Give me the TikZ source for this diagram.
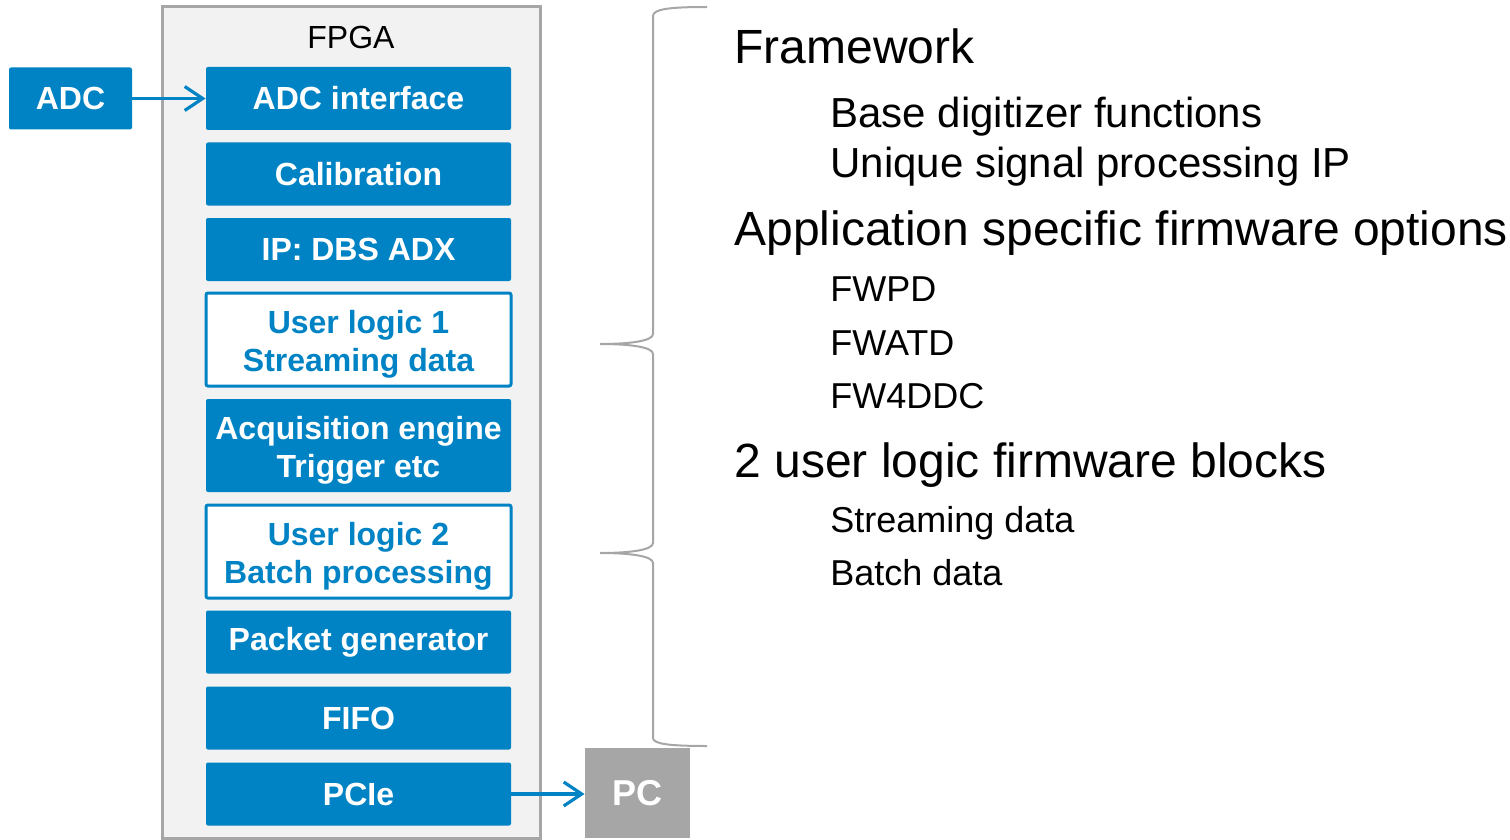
\documentclass[tikz,border=0pt]{standalone}
\usepackage{fontspec}
\setmainfont{Liberation Sans}
\usetikzlibrary{arrows.meta}
\definecolor{kblue}{RGB}{0,131,196}
\definecolor{kgray}{RGB}{166,166,166}
\definecolor{kbg}{RGB}{242,242,242}
\newcommand{\toppad}{\rule{0pt}{16.5pt}}

\begin{document}
\begin{tikzpicture}[x=0.5pt, y=-0.5pt,
    block/.style={fill=kblue, text=white, font=\fontsize{16}{19}\selectfont\bfseries, minimum width=152.5pt, minimum height=31.5pt, rounded corners=1pt, align=center, inner sep=0pt},
    tallblock/.style={block, minimum height=46.5pt},
    userblock/.style={tallblock, fill=white, draw=kblue, line width=1.5pt, text=kblue},
    arr/.style={kblue, line width=1.6pt, -{Straight Barb[length=9pt, width=12pt]}},
    head/.style={anchor=base west, inner sep=0pt, font=\fontsize{24}{28}\selectfont},
    subA/.style={anchor=base west, inner sep=0pt, font=\fontsize{21}{25}\selectfont},
    subB/.style={anchor=base west, inner sep=0pt, font=\fontsize{18}{22}\selectfont},
    brace/.style={kgray, line width=1pt}]
    \useasboundingbox (0,0) rectangle (1510,840);

    % FPGA frame
    \node[draw=kgray, fill=kbg, line width=1.5pt, minimum width=189pt, minimum height=415.5pt, inner sep=0pt] (fpga) at (351,422.5) {};
    \node[font=\fontsize{16}{19}\selectfont, anchor=base] (fpgalabel) at (351,49) {FPGA};

    % Blocks inside the FPGA
    \node[block] (adcif) at (358.5,98.5) {ADC interface};
    \node[block] (calib) at (358.5,174) {Calibration};
    \node[block] (ip) at (358.5,249.5) {IP: DBS ADX};
    \node[userblock] (ul1) at (358.5,339.5) {\toppad User logic 1\\Streaming data};
    \node[tallblock] (acq) at (358.5,445.5) {\toppad Acquisition engine\\Trigger etc};
    \node[userblock] (ul2) at (358.5,551.5) {\toppad User logic 2\\Batch processing};
    \node[block] (pkt) at (358.5,642) {Packet generator};
    \node[block] (fifo) at (358.5,718) {FIFO};
    \node[block] (pcie) at (358.5,794) {PCIe};

    % Outside: ADC and PC
    \node[block, minimum width=61.5pt, minimum height=31pt] (adc) at (70.5,98.5) {ADC};
    \node[block, fill=kgray, rounded corners=0pt, minimum width=52.5pt, minimum height=45pt, font=\fontsize{18}{22}\selectfont\bfseries] (pc) at (637.5,793) {PC};
    \draw[arr] (adc) -- (adcif);
    \draw[arr] (pcie.east) -- (pcie.east -| pc.west);

    % Brace
    \draw[brace] (707,7) .. controls (670,7) and (653,9) .. (653,16) -- (653,334)
        .. controls (653,341) and (630,344) .. (600,344)
        .. controls (630,344) and (653,347) .. (653,354) -- (653,543)
        .. controls (653,550) and (630,553) .. (600,553)
        .. controls (630,553) and (653,556) .. (653,563) -- (653,738)
        .. controls (653,744) and (670,746) .. (707,746);

    % Firmware list
    \node[head] (fw) at (734,64) {Framework};
    \node[subA] (fwbase) at (830,127) {Base digitizer functions};
    \node[subA] (fwip) at (830,177) {Unique signal processing IP};
    \node[head] (app) at (734,245) {Application specific firmware options};
    \node[subB] (fwpd) at (830,301) {FWPD};
    \node[subB] (fwatd) at (830,355) {FWATD};
    \node[subB] (fw4ddc) at (830,408) {FW4DDC};
    \node[head] (ulb) at (734,477) {2 user logic firmware blocks};
    \node[subB] (ulstream) at (830,532) {Streaming data};
    \node[subB] (ulbatch) at (830,585) {Batch data};
\end{tikzpicture}
\end{document}
